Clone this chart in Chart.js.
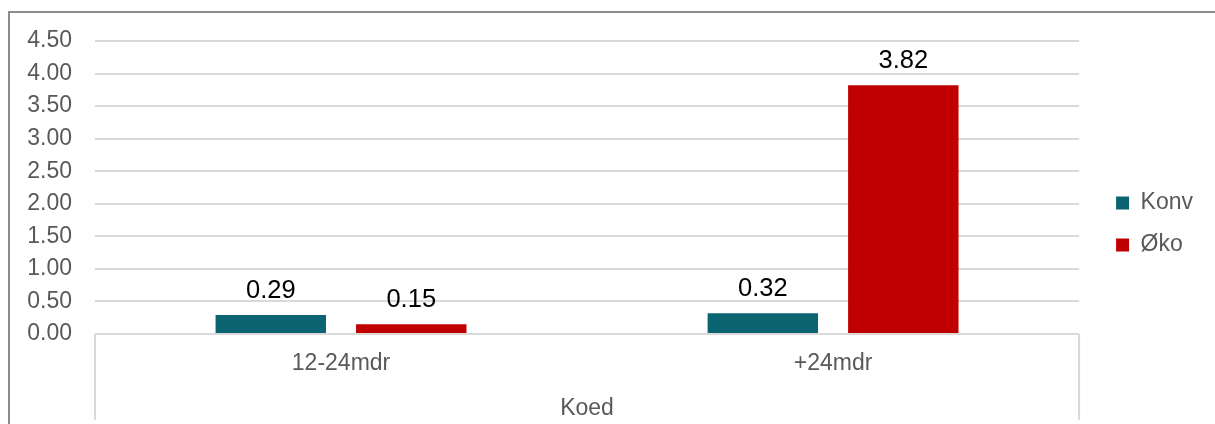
<!DOCTYPE html>
<html>
<head>
<meta charset="utf-8">
<script src="https://cdn.jsdelivr.net/npm/chart.js@4/dist/chart.umd.min.js"></script>
<style>
    body { margin: 0; background: #ffffff; overflow: hidden; }
    #wrap { position: absolute; left: 0; top: 0; width: 1215px; height: 424px; }
    #frame { position: absolute; left: 8px; top: 11px; width: 1300px; height: 500px; border: 2px solid #8c8c8c; pointer-events: none; }
</style>
</head>
<body>
<div id="wrap"><canvas id="chartKoed"></canvas></div>
<div id="frame"></div>
<script>
    // data
    var categories = ['12-24mdr', '+24mdr'];
    var groupLabel = 'Koed';
    var seriesNames = ['Konv', 'Øko'];
    var konvValues = [0.29, 0.32];
    var okoValues = [0.15, 3.82];
    var seriesColors = ['#0b6570', '#c00000'];

    const fontFamily = '"Liberation Sans", Arial, sans-serif';

    // value labels above bars
    const valueLabels = {
        id: 'valueLabels',
        afterDatasetsDraw: function (chart) {
            const ctx = chart.ctx;
            ctx.save();
            ctx.font = '25.5px ' + fontFamily;
            ctx.fillStyle = '#000000';
            ctx.textAlign = 'center';
            ctx.textBaseline = 'middle';
            chart.data.datasets.forEach(function (ds, i) {
                chart.getDatasetMeta(i).data.forEach(function (bar, j) {
                    ctx.fillText(ds.data[j].toFixed(2), bar.x, bar.y - 24);
                });
            });
            ctx.restore();
        }
    };

    // outer lines of the category axis box
    const axisBox = {
        id: 'axisBox',
        afterDraw: function (chart) {
            const ctx = chart.ctx;
            const area = chart.chartArea;
            ctx.save();
            ctx.strokeStyle = '#d9d9d9';
            ctx.lineWidth = 2;
            ctx.beginPath();
            ctx.moveTo(area.left, area.bottom);
            ctx.lineTo(area.left, 420);
            ctx.moveTo(area.right, area.bottom);
            ctx.lineTo(area.right, 420);
            ctx.stroke();
            ctx.restore();
        }
    };

    // move legend a bit (right and up)
    const legendShift = {
        id: 'legendShift',
        afterLayout: function (chart) {
            const lg = chart.legend;
            lg.left += 18;
            lg.right += 18;
            lg.top -= 8.5;
            lg.bottom -= 8.5;
        }
    };

    let ctx = document.getElementById('chartKoed').getContext('2d');
    let koedChart = new Chart(ctx, {
        type: 'bar',
        data: {
            labels: categories,
            datasets: [
                {
                    label: seriesNames[0],
                    data: konvValues,
                    backgroundColor: seriesColors[0],
                    borderWidth: 0
                },
                {
                    label: seriesNames[1],
                    data: okoValues,
                    backgroundColor: seriesColors[1],
                    borderWidth: 0
                }
            ]
        },
        plugins: [valueLabels, axisBox, legendShift],
        options: {
            responsive: true,
            maintainAspectRatio: false,
            animation: false,
            categoryPercentage: 0.571,
            barPercentage: 0.786,
            layout: {
                padding: { top: 41, right: 30, bottom: 0, left: 0 }
            },
            plugins: {
                legend: {
                    display: true,
                    position: 'right',
                    labels: {
                        boxWidth: 13,
                        boxHeight: 13,
                        padding: 19,
                        color: '#595959',
                        font: { family: fontFamily, size: 23 }
                    }
                },
                tooltip: { enabled: false }
            },
            scales: {
                x: {
                    afterFit: function (scale) { scale.height = 90; },
                    grid: { display: false, drawTicks: false },
                    border: { display: false },
                    ticks: {
                        padding: 16,
                        color: '#595959',
                        font: { family: fontFamily, size: 23 }
                    },
                    title: {
                        display: true,
                        text: groupLabel,
                        color: '#595959',
                        font: { family: fontFamily, size: 23 },
                        padding: { top: 0, bottom: 2 }
                    }
                },
                y: {
                    min: 0,
                    max: 4.5,
                    afterFit: function (scale) { scale.width = 95; },
                    grid: { color: '#d9d9d9', lineWidth: 2, drawTicks: false },
                    border: { display: false },
                    ticks: {
                        stepSize: 0.5,
                        padding: 23,
                        color: '#595959',
                        font: { family: fontFamily, size: 23 },
                        callback: function (v) { return v.toFixed(2); }
                    }
                }
            }
        }
    });
</script>
</body>
</html>
